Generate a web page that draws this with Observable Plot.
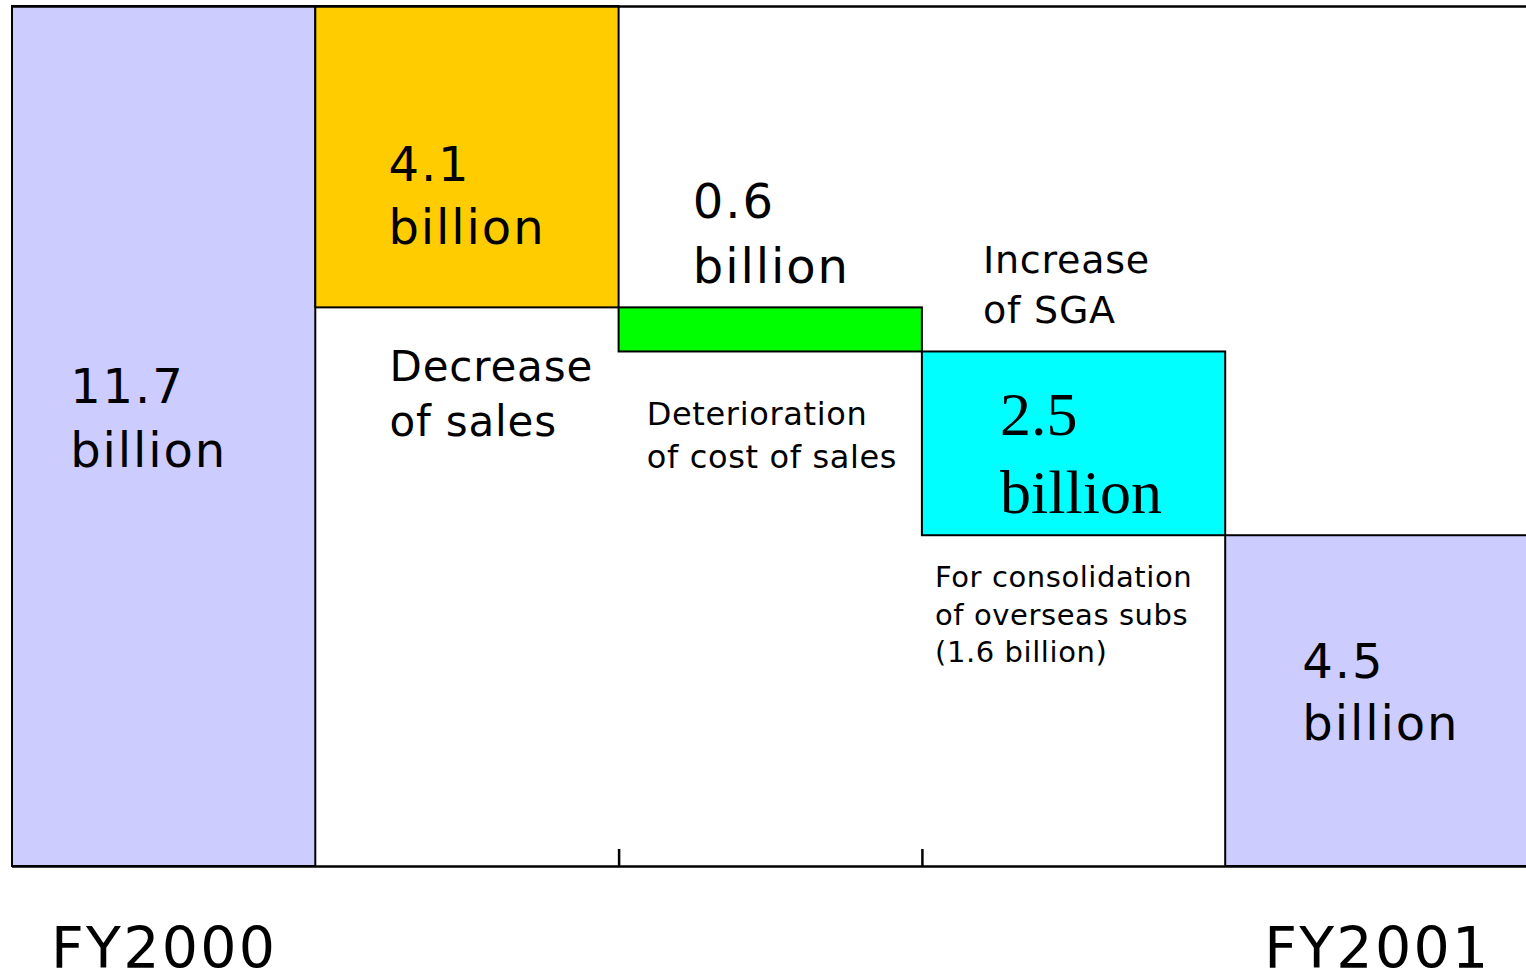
<!DOCTYPE html>
<html>
<head>
<meta charset="utf-8">
<script src="https://cdn.jsdelivr.net/npm/d3@7"></script>
<script src="https://cdn.jsdelivr.net/npm/@observablehq/plot@0.6"></script>
<style>
  html, body { margin: 0; padding: 0; background: #fff; }
  #chart svg { display: block; }
  #chart svg text { letter-spacing: 0.04em; }
  #chart svg g[font-size="42"] text,
  #chart svg g[font-size="38"] text,
  #chart svg g[font-size="32"] text,
  #chart svg g[font-size="29"] text { letter-spacing: 0.02em; }
  #chart svg g[font-family^="Liberation Serif"] text { letter-spacing: 0; }
</style>
</head>
<body>
<div id="chart"></div>
<script>
// ---- data ----
const categories = ["FY2000", "Decrease of sales", "Deterioration of cost of sales", "Increase of SGA", "FY2001"];
const values = [11.7, -4.1, -0.6, -2.5, 4.5];
const kinds = ["total", "delta", "delta", "delta", "total"];
const colors = ["#CCCCFF", "#FFCC00", "#00FF00", "#00FFFF", "#CCCCFF"];
const valueLabels = ["11.7\nbillion", "4.1\nbillion", "0.6\nbillion", "2.5\nbillion", "4.5\nbillion"];
const noteLabels = [null, "Decrease\nof sales", "Deterioration\nof cost of sales", "Increase\nof SGA", null];
const subNote = "For consolidation\nof overseas subs\n(1.6 billion)";
const tickLabels = ["FY2000", "", "", "", "FY2001"];

// ---- build waterfall table ----
let running = 0;
const rows = categories.map((c, i) => {
  let y1, y2;
  if (kinds[i] === "total") { y1 = 0; y2 = values[i]; running = values[i]; }
  else { y1 = running; y2 = running + values[i]; running = y2; }
  return {category: c, y1, y2, mid: (y1 + y2) / 2, color: colors[i], value: valueLabels[i], note: noteLabels[i], tick: tickLabels[i]};
});

const W = 1526, H = 974;
const mL = 12, mR = 0, mT = 6, mB = 108;
const xRange = [mL, W + 2.5];
const bw = (xRange[1] - xRange[0]) / categories.length;

const txt = (row, opts) => Plot.text([row], {x: "category", textAnchor: "start", lineAnchor: "bottom", fill: "black", ...opts});

const chart = Plot.plot({
  width: W,
  height: H,
  marginLeft: mL,
  marginRight: mR,
  marginTop: mT,
  marginBottom: mB,
  style: {fontFamily: "DejaVu Sans, sans-serif", background: "white", color: "black"},
  x: {domain: categories, range: xRange, padding: 0, round: false, label: null},
  y: {domain: [0, values[0]], axis: null},
  color: {type: "identity"},
  marks: [
    Plot.barY(rows, {x: "category", y1: "y1", y2: "y2", fill: "color", stroke: "black", strokeWidth: 2}),
    Plot.ruleY([values[0]], {stroke: "black", strokeWidth: 2.5}),
    Plot.ruleY([0], {stroke: "black", strokeWidth: 2.5}),
    Plot.ruleX([categories[2], categories[3]], {x: d => d, y1: 0, y2: 0, insetTop: -17, dx: -bw / 2, stroke: "black", strokeWidth: 2.5}),
    Plot.axisX({tickSize: 0, tickPadding: 61, fontSize: 57, tickFormat: (d) => tickLabels[categories.indexOf(d)], fill: "black"}),
    // value labels
    txt(rows[0], {text: "value", y: "mid", dx: -94, dy: 30, fontSize: 48, lineHeight: 1.33}),
    txt(rows[1], {text: "value", y: "y2", dx: -79, dy: -64, fontSize: 48, lineHeight: 1.31}),
    txt(rows[2], {text: "value", y: "y1", dx: -78, dy: -25, fontSize: 48, lineHeight: 1.35}),
    txt(rows[3], {text: "value", y: "y2", dx: -74, dy: -23, fontSize: 62, lineHeight: 1.26, fontFamily: "Liberation Serif, serif"}),
    txt(rows[4], {text: "value", y: "mid", dx: -75, dy: 39, fontSize: 48, lineHeight: 1.29}),
    // notes
    txt(rows[1], {text: "note", y: "y2", dx: -78, dy: 128, fontSize: 42, lineHeight: 1.31}),
    txt(rows[2], {text: "note", y: "y2", dx: -124, dy: 116, fontSize: 32, lineHeight: 1.34}),
    txt(rows[3], {text: "note", y: "y1", dx: -91, dy: -29, fontSize: 38, lineHeight: 1.32}),
    txt(rows[3], {text: () => subNote, y: "y2", dx: -139, dy: 126, fontSize: 29, lineHeight: 1.28})
  ]
});

document.getElementById("chart").appendChild(chart);
</script>
</body>
</html>
